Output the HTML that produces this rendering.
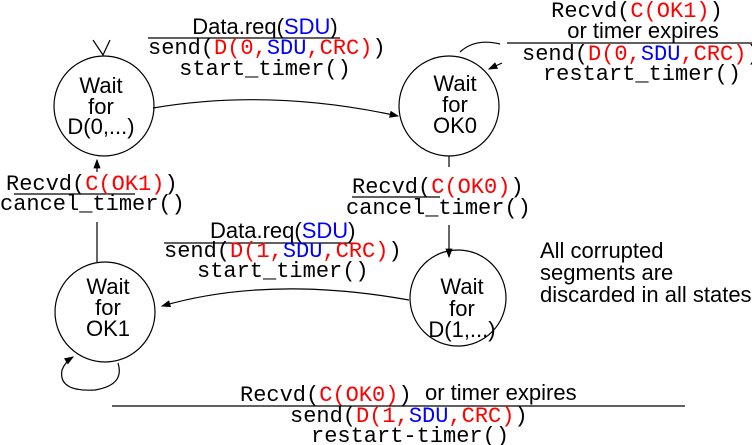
<!DOCTYPE html>
<html><head><meta charset="utf-8"><style>
body{margin:0;background:#fff}
svg{display:block}
.m{font-family:"Liberation Mono",monospace;font-size:22px;fill:#000}
.s{font-family:"Liberation Sans",sans-serif;font-size:22px;fill:#000}
.r{fill:#f00}.b{fill:#00f}
</style></head><body>
<svg width="752" height="445" viewBox="0 0 752 445" xmlns="http://www.w3.org/2000/svg">
<defs><marker id="a" markerWidth="8" markerHeight="6" refX="7" refY="3" orient="auto"><path d="M0,0 L8,3 L0,6 z" fill="#000"/></marker></defs>
<g fill="none" stroke="#000" stroke-width="1.2">
<circle cx="104" cy="106" r="50"/>
<circle cx="449" cy="106" r="50"/>
<circle cx="105" cy="312" r="50"/>
<circle cx="458" cy="298" r="48"/>
<path d="M93,40 L103,55 L110,40"/>
<path d="M153,108 Q270,88 398,116" marker-end="url(#a)"/>
<path d="M449,225 L449,257" marker-end="url(#a)"/>
<path d="M449,156 L449,167"/>
<path d="M409,300 Q270,275 162,306" marker-end="url(#a)"/>
<path d="M97,262 L97,222"/>
<path d="M97,172 L97,160" marker-end="url(#a)"/>
<path d="M460,52 Q475,38 500,44"/>
<path d="M502,63 L489,69" marker-end="url(#a)"/>
<path d="M118,363 Q125,385 95,390 Q58,392 62,370 Q65,362 73,357" marker-end="url(#a)"/>
<path d="M148,38 L340,38"/>
<path d="M507,43 L752,43"/>
<path d="M14,194 L135,194"/>
<path d="M164,243 L352,243"/>
<path d="M112,406 L685,406"/>
<path d="M352,197 L440,197"/>
</g>
<text class="s" x="101" y="93" text-anchor="middle">Wait</text>
<text class="s" x="101" y="114" text-anchor="middle">for</text>
<text class="s" x="101" y="134" text-anchor="middle">D(0,...)</text>
<text class="s" x="455" y="91" text-anchor="middle">Wait</text>
<text class="s" x="455" y="112" text-anchor="middle">for</text>
<text class="s" x="455" y="133" text-anchor="middle">OK0</text>
<text class="s" x="108" y="294" text-anchor="middle">Wait</text>
<text class="s" x="108" y="315" text-anchor="middle">for</text>
<text class="s" x="108" y="336" text-anchor="middle">OK1</text>
<text class="s" x="462" y="294" text-anchor="middle">Wait</text>
<text class="s" x="462" y="316" text-anchor="middle">for</text>
<text class="s" x="462" y="337" text-anchor="middle">D(1,...)</text>

<text class="s" x="265" y="34" text-anchor="middle">Data.req(<tspan class="b">SDU</tspan>)</text>
<text class="m" x="148" y="54">send(<tspan class="r">D(0,</tspan><tspan class="b">SDU</tspan><tspan class="r">,CRC)</tspan>)</text>
<text class="m" x="265" y="75" text-anchor="middle">start_timer()</text>

<text class="m" x="637" y="17" text-anchor="middle">Recvd(<tspan class="r">C(OK1)</tspan>)</text>
<text class="s" x="643" y="38" text-anchor="middle">or timer expires</text>
<text class="m" x="522" y="60">send(<tspan class="r">D(0,</tspan><tspan class="b">SDU</tspan><tspan class="r">,CRC)</tspan>)</text>
<text class="m" x="642" y="80" text-anchor="middle">restart_timer()</text>

<text class="m" x="6" y="190">Recvd(<tspan class="r">C(OK1)</tspan>)</text>
<text class="m" x="0" y="210">cancel_timer()</text>

<text class="m" x="352" y="193">Recvd(<tspan class="r">C(OK0)</tspan>)</text>
<text class="m" x="346" y="214">cancel_timer()</text>

<text class="s" x="210" y="238">Data.req(<tspan class="b">SDU</tspan>)</text>
<text class="m" x="164" y="257">send(<tspan class="r">D(1,</tspan><tspan class="b">SDU</tspan><tspan class="r">,CRC)</tspan>)</text>
<text class="m" x="197" y="277">start_timer()</text>

<text class="s" x="540" y="258">All corrupted</text>
<text class="s" x="540" y="280">segments are</text>
<text class="s" x="540" y="302">discarded in all states</text>

<text class="m" x="240" y="401">Recvd(<tspan class="r">C(OK0)</tspan>)</text>
<text class="s" x="425" y="400">or timer expires</text>
<text class="m" x="290" y="422">send(<tspan class="r">D(1,</tspan><tspan class="b">SDU</tspan><tspan class="r">,CRC)</tspan>)</text>
<text class="m" x="311" y="442">restart-timer()</text>
</svg>
</body></html>
